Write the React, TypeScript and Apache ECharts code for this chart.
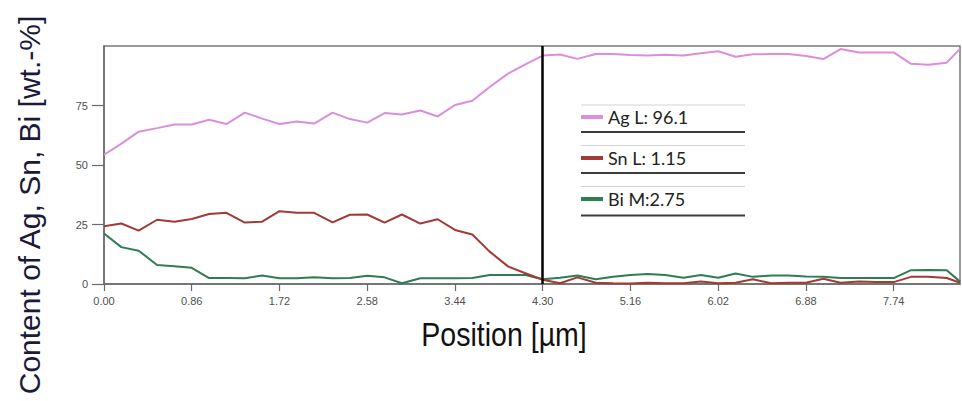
import React, { useEffect, useRef } from "react";
import * as echarts from "echarts";

// Positions along the line scan (µm)
const positions = [
  0.0, 0.17, 0.34, 0.52, 0.69, 0.86, 1.03, 1.2, 1.38, 1.55, 1.72, 1.89, 2.06, 2.24, 2.41, 2.58,
  2.75, 2.92, 3.1, 3.27, 3.44, 3.61, 3.78, 3.96, 4.13, 4.3, 4.47, 4.64, 4.82, 4.99, 5.16, 5.33,
  5.5, 5.68, 5.85, 6.02, 6.19, 6.36, 6.54, 6.71, 6.88, 7.05, 7.22, 7.4, 7.57, 7.74, 7.91, 8.08,
  8.26, 8.39,
];

const agValues = [
  54.3, 59, 64, 65.5, 67, 67, 69, 67.2, 72, 69.5, 67.2, 68.3, 67.4, 72, 69.3, 67.8,
  71.8, 71.2, 72.9, 70.4, 75.2, 77, 82.8, 88.4, 92.3, 96, 96.4, 94.6, 96.6, 96.6, 96.2, 96,
  96.3, 96, 97, 97.8, 95.5, 96.5, 96.6, 96.6, 95.8, 94.5, 98.7, 97.3, 97.3, 97.3, 92.5, 92.1,
  93, 98.8,
];

const snValues = [
  24.3, 25.4, 22.4, 27, 26.2, 27.3, 29.4, 29.9, 25.8, 26.2, 30.6, 29.9, 29.9, 25.9, 29.1, 29.2,
  25.8, 29.2, 25.4, 27.2, 22.7, 20.8, 13.6, 7.4, 4.5, 1.8, 0.3, 2.8, 0.5, 0.3, 0.2, 0.5,
  0.3, 0.3, 1.0, 0.3, 0.5, 2.0, 0.3, 0.5, 0.5, 2.2, 0.5, 1.0, 0.8, 0.8, 3.0, 3.0,
  2.5, 0.5,
];

const biValues = [
  21.2, 15.5, 14, 8, 7.5, 6.8, 2.5, 2.5, 2.4, 3.6, 2.4, 2.4, 2.8, 2.4, 2.5, 3.5,
  2.8, 0.3, 2.4, 2.4, 2.4, 2.5, 3.8, 3.8, 3.8, 2.0, 2.6, 3.6, 2.0, 3.0, 3.8, 4.2,
  3.8, 2.6, 3.8, 2.6, 4.4, 3.0, 3.6, 3.6, 3.2, 3.0, 2.5, 2.5, 2.5, 2.5, 5.8, 5.9,
  5.8, 1.0,
];

const seriesNames = ["Ag L: 96.1", "Sn L: 1.15", "Bi M:2.75"];
const seriesColors = ["#db8edb", "#a23a35", "#2f7d52"];

const xTicks = [0, 0.86, 1.72, 2.58, 3.44, 4.3, 5.16, 6.02, 6.88, 7.74];
const yTicks = [0, 25, 50, 75];
const cursorPosition = 4.3;

const xAxisTitle = "Position [µm]";
const yAxisTitle = "Content of Ag, Sn, Bi [wt.-%]";

const toPairs = (vals: number[]) => positions.map((p, i) => [p, vals[i]]);

export default function App() {
  const ref = useRef<HTMLDivElement>(null);

  useEffect(() => {
    if (!ref.current) return;
    const chart = echarts.init(ref.current, null, { renderer: "svg" });
    const allValues = [agValues, snValues, biValues];

    const sepLight = [105, 145.5, 186.5];
    const sepDark = [132, 173, 215.5];

    chart.setOption({
      animation: false,
      backgroundColor: "#ffffff",
      grid: {
        left: 104,
        right: 2,
        top: 46,
        bottom: 117,
        show: true,
        borderColor: "#7a7a7a",
        borderWidth: 1.5,
        backgroundColor: "transparent",
      },
      xAxis: {
        type: "value",
        min: 0,
        max: 8.39,
        axisLine: { show: true, lineStyle: { color: "#6a6a6a", width: 1.5 } },
        axisTick: {
          show: true,
          length: 7,
          customValues: xTicks,
          lineStyle: { color: "#6a6a6a", width: 1.2 },
        },
        axisLabel: {
          customValues: xTicks,
          formatter: (v: number) => v.toFixed(2),
          color: "#505050",
          fontSize: 11,
          fontFamily: "'Liberation Sans', Arial, sans-serif",
          margin: 11,
        },
        splitLine: { show: false },
      },
      yAxis: {
        type: "value",
        min: 0,
        max: 100,
        axisLine: { show: true, lineStyle: { color: "#6a6a6a", width: 1.5 } },
        axisTick: {
          show: true,
          length: 12,
          customValues: yTicks,
          lineStyle: { color: "#6a6a6a", width: 1.2 },
        },
        axisLabel: {
          customValues: yTicks,
          color: "#505050",
          fontSize: 11,
          fontFamily: "'Liberation Sans', Arial, sans-serif",
          margin: 16,
        },
        splitLine: { show: false },
      },
      legend: {
        show: true,
        orient: "vertical",
        left: 581,
        top: 107,
        padding: 0,
        itemWidth: 22,
        itemHeight: 4,
        itemGap: 21,
        icon: "rect",
        selectedMode: false,
        data: seriesNames,
        textStyle: {
          fontSize: 18,
          lineHeight: 20,
          color: "#222222",
          fontFamily: "Lato, 'Open Sans', sans-serif",
        },
      },
      series: seriesNames.map((name, i) => ({
        name,
        type: "line",
        data: toPairs(allValues[i]),
        showSymbol: false,
        symbol: "none",
        color: seriesColors[i],
        lineStyle: { color: seriesColors[i], width: 2 },
        z: 2 + (i === 1 ? 1 : 0),
        markLine:
          i === 2
            ? {
                silent: true,
                symbol: ["none", "none"],
                label: { show: false },
                lineStyle: { color: "#000000", width: 2.5, type: "solid" },
                data: [{ xAxis: cursorPosition }],
                z: 10,
              }
            : undefined,
      })),
      graphic: [
        ...sepLight.map((y) => ({
          type: "line",
          shape: { x1: 581, y1: y, x2: 745, y2: y },
          style: { stroke: "#d4d4d4", lineWidth: 1 },
          z: 20,
        })),
        ...sepDark.map((y) => ({
          type: "line",
          shape: { x1: 581, y1: y, x2: 745, y2: y },
          style: { stroke: "#3c3c3c", lineWidth: 2 },
          z: 20,
        })),
        {
          type: "text",
          x: 504,
          y: 335,
          scaleX: 0.84,
          style: {
            text: xAxisTitle,
            fontSize: 34,
            fontFamily: "'Liberation Sans', Arial, sans-serif",
            fill: "#111111",
            align: "center",
            verticalAlign: "middle",
          },
        },
        {
          type: "text",
          x: 29,
          y: 205,
          rotation: Math.PI / 2,
          style: {
            text: yAxisTitle,
            fontSize: 30,
            fontFamily: "'Liberation Sans', Arial, sans-serif",
            fill: "#1a1a3a",
            align: "center",
            verticalAlign: "middle",
          },
        },
      ],
    });

    return () => chart.dispose();
  }, []);

  return (
    <div
      ref={ref}
      style={{ position: "absolute", left: 0, top: 0, width: 962, height: 401 }}
    />
  );
}
